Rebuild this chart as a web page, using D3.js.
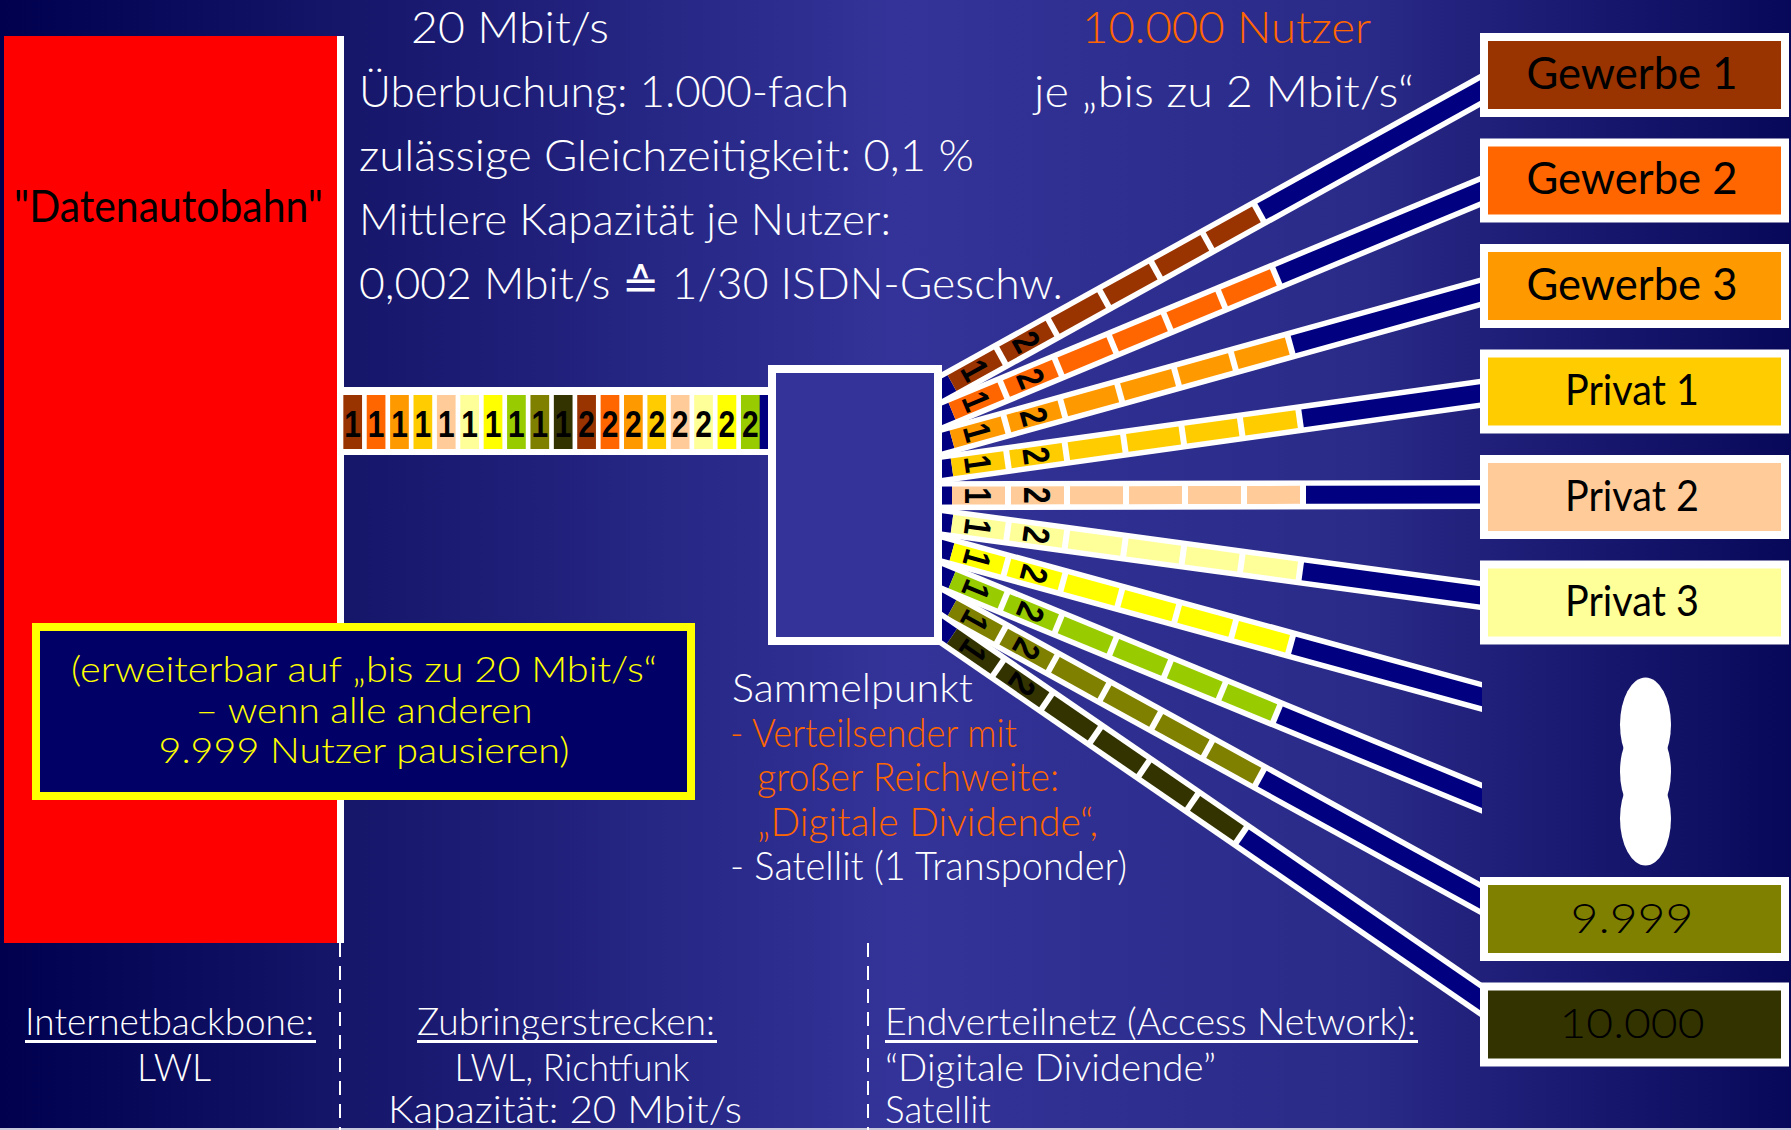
<!DOCTYPE html>
<html><head><meta charset="utf-8">
<script src="https://cdn.jsdelivr.net/npm/d3@7/dist/d3.min.js"></script>
<style>html,body{margin:0;padding:0;background:#1a1a6a;overflow:hidden}svg{display:block}</style>
</head><body><svg id="c" width="1791" height="1130"></svg>
<script>
// ---------- data ----------
const endpoints = ["Gewerbe 1","Gewerbe 2","Gewerbe 3","Privat 1","Privat 2","Privat 3",null,null,"9.999","10.000"];
const userColors = ["#993300","#ff6600","#ff9900","#ffcc00","#ffcc99","#ffff99","#ffff00","#99cc00","#808000","#333300"];
const feederOnes = userColors.slice(0,10);
const feederTwos = userColors.slice(0,8);
const segmentLabels = ["1","2","","","",""];
const headerLines = ["20 Mbit/s","Überbuchung: 1.000-fach","zulässige Gleichzeitigkeit: 0,1 %","Mittlere Kapazität je Nutzer:","0,002 Mbit/s ≙ 1/30 ISDN-Geschw."];
const usersLines = ["10.000 Nutzer","je „bis zu 2 Mbit/s“"];
const noteLines = ["(erweiterbar auf „bis zu 20 Mbit/s“","– wenn alle anderen","9.999 Nutzer pausieren)"];
const hubLines = ["Sammelpunkt","- Verteilsender mit","großer Reichweite:","„Digitale Dividende“,","- Satellit (1 Transponder)"];
const backboneLabel = "\"Datenautobahn\"";
const footerCols = [
  {title:"Internetbackbone:", lines:["LWL"]},
  {title:"Zubringerstrecken:", lines:["LWL, Richtfunk","Kapazität: 20 Mbit/s"]},
  {title:"Endverteilnetz (Access Network):", lines:["“Digitale Dividende”","Satellit"]}
];

// ---------- setup ----------
const W = 1791, H = 1130;
const svg = d3.select("#c");
const defs = svg.append("defs");
const grad = defs.append("linearGradient").attr("id","bg").attr("x1",0).attr("x2",1).attr("y1",0).attr("y2",0);
[[0,"#00004f"],[0.18,"#141468"],[0.5,"#333399"],[0.76,"#2a2a88"],[1,"#08085a"]].forEach(s=>grad.append("stop").attr("offset",s[0]).attr("stop-color",s[1]));
defs.append("clipPath").attr("id","cableClip").append("rect").attr("x",900).attr("y",0).attr("width",582).attr("height",H);

const FONT = "Lato, 'Open Sans', sans-serif";
const BOLD = "'Liberation Sans', Arial, sans-serif";

function txt(g, s, x, y, o){
  const t = g.append("text").attr("x",x).attr("y",y).text(s)
    .attr("font-family", o.family||FONT).attr("font-size", o.size).attr("font-weight", o.weight||300)
    .attr("fill", o.fill||"#fff").attr("text-anchor", o.anchor||"start");
  if (o.width){ t.attr("textLength", o.width).attr("lengthAdjust","spacingAndGlyphs"); }
  return t;
}

svg.append("rect").attr("width",W).attr("height",H).attr("fill","url(#bg)");
svg.append("rect").attr("x",0).attr("y",H-2).attr("width",W).attr("height",2).attr("fill","#c8c8dc");

// ---------- backbone ----------
svg.append("rect").attr("x",4).attr("y",36).attr("width",333).attr("height",907).attr("fill","#ff0000");
svg.append("rect").attr("x",337).attr("y",36).attr("width",7).attr("height",907).attr("fill","#ffffff");
txt(svg, backboneLabel, 168.5, 222, {size:44, weight:400, fill:"#000", anchor:"middle", width:309});

// ---------- feeder ----------
const feederCells = feederOnes.map(c=>({digit:"1",color:c})).concat(feederTwos.map(c=>({digit:"2",color:c})));
const fx = d3.scaleBand().domain(d3.range(feederCells.length)).range([341,762]).paddingInner(0.2).paddingOuter(0.1);
const feedY0 = 387, feedH = 68, cellY0 = 395, cellH = 54;
svg.append("rect").attr("x",344).attr("y",feedY0).attr("width",425).attr("height",feedH).attr("fill","#fff");
svg.append("rect").attr("x",fx.range()[1]-3).attr("y",cellY0).attr("width",10).attr("height",cellH).attr("fill","#000080");
const fg = svg.append("g");
fg.selectAll("rect.cell").data(feederCells).join("rect").attr("class","cell")
  .attr("x",(d,i)=>fx(i)).attr("y",cellY0).attr("width",fx.bandwidth()).attr("height",cellH).attr("fill",d=>d.color);
fg.selectAll("text.cd").data(feederCells).join("text").attr("class","cd")
  .attr("transform",(d,i)=>`translate(${fx(i)+fx.bandwidth()/2},${cellY0+42}) scale(1,1.25)`)
  .attr("text-anchor","middle").attr("font-family",BOLD).attr("font-weight",700).attr("font-size",30).attr("fill","#000")
  .text(d=>d.digit);

// ---------- cables ----------
const O = {x:748, y:496};
const xEnd = 1481;
const endY = d3.scaleLinear().domain([0, endpoints.length-1]).range([90,1000]);
const segStartX = 952, segPitch = 59, segLen = 53;
const cg = svg.append("g").attr("clip-path","url(#cableClip)");
endpoints.forEach((ep,i)=>{
  const ey = endY(i);
  const dx = xEnd - O.x, dy = ey - O.y, L = Math.hypot(dx,dy);
  const ux = dx/L, uy = dy/L;
  const P = d => [O.x+ux*d, O.y+uy*d];
  const d0 = (segStartX - O.x)/ux;
  const dNavy = d0 + segmentLabels.length*segPitch;
  const g = cg.append("g");
  const seg = (a,b,col,w)=>{ const p=P(a), q=P(b);
    g.append("line").attr("x1",p[0]).attr("y1",p[1]).attr("x2",q[0]).attr("y2",q[1]).attr("stroke",col).attr("stroke-width",w); };
  seg(0, L+80, "#fff", 29);
  seg(0, d0, "#000080", 18);
  seg(dNavy, L+80, "#000080", 18);
  segmentLabels.forEach((lab,k)=> seg(d0+k*segPitch, d0+k*segPitch+segLen, userColors[i], 18));
  const ang = Math.atan2(uy,ux)*180/Math.PI;
  segmentLabels.forEach((lab,k)=>{
    if(!lab) return;
    const c = P(d0+k*segPitch+segLen/2);
    g.append("text").attr("transform",`translate(${c[0]},${c[1]}) rotate(${ang+90}) scale(1,1.25)`)
      .attr("y",10.7).attr("text-anchor","middle").attr("font-family",BOLD).attr("font-weight",700).attr("font-size",30).attr("fill","#000").text(lab);
  });
});

// ---------- Sammelpunkt box ----------
svg.append("rect").attr("x",772).attr("y",369).attr("width",166).attr("height",272).attr("fill","#333399").attr("stroke","#fff").attr("stroke-width",8);

// ---------- right boxes ----------
const yBand = d3.scaleBand().domain(d3.range(endpoints.length)).range([33,1066.5]).paddingInner(0.2038).paddingOuter(0);
const boxX = 1480, boxW = 309, bh = yBand.bandwidth();
const labelStyle = {
  "Gewerbe": {size:45, weight:400, width:211},
  "Privat": {size:42, weight:400, width:134},
  "9.999": {size:42, weight:300, width:123},
  "10.000": {size:42, weight:300, width:145}
};
endpoints.forEach((ep,i)=>{
  if(!ep) return;
  const top = yBand(i);
  svg.append("rect").attr("x",boxX+4).attr("y",top+4).attr("width",boxW-8).attr("height",bh-8)
    .attr("fill",userColors[i]).attr("stroke","#fff").attr("stroke-width",8);
  const key = Object.keys(labelStyle).find(k=>ep.startsWith(k));
  const st = labelStyle[key];
  txt(svg, ep, boxX+152, top+55.5, {size:st.size, weight:st.weight, width:st.width, fill:"#000", anchor:"middle"});
});
const blobY = yBand(7);
[-47,0,47].forEach(off=>{
  svg.append("ellipse").attr("cx",boxX+boxW/2+11).attr("cy",blobY+off).attr("rx",25.5).attr("ry",47).attr("fill","#fff");
});

// ---------- header texts ----------
const headerPos = [[411,198],[359,490],[359,615],[359,532],[359,704]];
headerLines.forEach((s,i)=>txt(svg, s, headerPos[i][0], 43+64*i, {size:43, width:headerPos[i][1]}));
txt(svg, usersLines[0], 1082, 43, {size:43, width:289, fill:"#ff6600"});
txt(svg, usersLines[1], 1034, 107, {size:43, width:380});

// ---------- hub text ----------
const hubPos = [[732,241,"#fff"],[730,287,"#ff6600"],[757,302,"#ff6600"],[757,341,"#ff6600"],[730,397,"#fff"]];
hubLines.forEach((s,i)=>txt(svg, s, hubPos[i][0], 702+44.5*i, {size:40, width:hubPos[i][1], fill:hubPos[i][2]}));

// ---------- note box ----------
svg.append("rect").attr("x",36).attr("y",627).attr("width",655).attr("height",169).attr("fill","#000066").attr("stroke","#ffff00").attr("stroke-width",8);
const noteW = [586,337,411];
noteLines.forEach((s,i)=>txt(svg, s, 364, 682+40.5*i, {size:36, width:noteW[i], fill:"#ffff00", anchor:"middle"}));

// ---------- footer ----------
[340,868].forEach(x=>svg.append("line").attr("x1",x).attr("x2",x).attr("y1",943).attr("y2",H)
  .attr("stroke","#fff").attr("stroke-width",2).attr("stroke-dasharray","14 9"));
const footTitle = [[25,289],[417,298],[885,531]];
footerCols.forEach((c,i)=>{
  const [x,w] = footTitle[i];
  txt(svg, c.title, x, 1035, {size:37, width:w});
  svg.append("rect").attr("x",x).attr("y",1040).attr("width",w+2).attr("height",3).attr("fill","#fff");
});
const footLines = [
  [[174,74,"middle"]],
  [[572,235,"middle"],[565,354,"middle"]],
  [[885,331,"start"],[885,106,"start"]]
];
footerCols.forEach((c,i)=>c.lines.forEach((s,j)=>{
  const [x,w,a] = footLines[i][j];
  txt(svg, s, x, 1081+42*j, {size:37, width:w, anchor:a});
}));
</script></body></html>
